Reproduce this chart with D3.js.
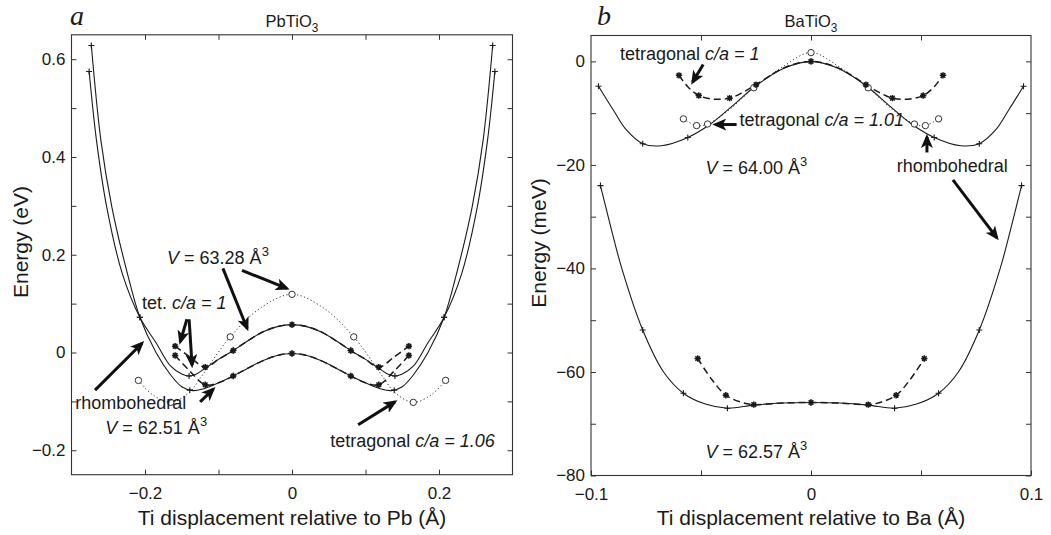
<!DOCTYPE html>
<html><head><meta charset="utf-8">
<script src="https://cdn.jsdelivr.net/npm/d3@7"></script>
<style>
body{margin:0;background:#fff;}
svg text{font-family:"Liberation Sans",Arial,Helvetica,sans-serif;fill:#1a1a1a;}
</style></head><body>
<svg id="chart" width="1051" height="535"></svg>
<script>
// ================= Panel a : PbTiO3 =================
const aXTicks = [-0.2,-0.1,0,0.1,0.2];
const aXLabelVals = [-0.2,0,0.2];
const aXLabelText = ["\u22120.2","0","0.2"];
const aYTicks = [-0.2,-0.1,0,0.1,0.2,0.3,0.4,0.5,0.6];
const aYLabelVals = [-0.2,0,0.2,0.4,0.6];
const aYLabelText = ["\u22120.2","0","0.2","0.4","0.6"];

// rhombohedral, deeper well (solid, +)
const aRhombDeep = [[-0.273,0.628],[-0.260,0.434],[-0.245,0.297],[-0.224,0.162],[-0.207,0.072],[-0.185,0.000],[-0.165,-0.046],[-0.150,-0.070],[-0.135,-0.078],[-0.120,-0.074],[-0.100,-0.062],[-0.080,-0.048],[-0.060,-0.032],[-0.040,-0.017],[-0.020,-0.006],[0,-0.002],[0.020,-0.006],[0.040,-0.017],[0.060,-0.032],[0.080,-0.048],[0.100,-0.062],[0.120,-0.074],[0.135,-0.078],[0.150,-0.070],[0.165,-0.046],[0.185,0.000],[0.207,0.072],[0.224,0.162],[0.245,0.297],[0.260,0.434],[0.273,0.628]];
const aRhombDeepMarks = [[-0.273,0.628],[-0.207,0.072],[-0.139,-0.077],[-0.080,-0.048],[0,-0.002],[0.080,-0.048],[0.139,-0.077],[0.207,0.072],[0.273,0.628]];
// rhombohedral, shallower well (solid, +)
const aRhombShallow = [[-0.276,0.575],[-0.266,0.434],[-0.252,0.297],[-0.231,0.162],[-0.207,0.072],[-0.185,0.020],[-0.165,-0.028],[-0.150,-0.044],[-0.140,-0.048],[-0.130,-0.044],[-0.118,-0.032],[-0.100,-0.014],[-0.080,0.004],[-0.060,0.024],[-0.040,0.042],[-0.020,0.053],[0,0.057],[0.020,0.053],[0.040,0.042],[0.060,0.024],[0.080,0.004],[0.100,-0.014],[0.118,-0.032],[0.130,-0.044],[0.140,-0.048],[0.150,-0.044],[0.165,-0.028],[0.185,0.020],[0.207,0.072],[0.231,0.162],[0.252,0.297],[0.266,0.434],[0.276,0.575]];
const aRhombShallowMarks = [[-0.276,0.575],[-0.207,0.072],[-0.140,-0.048],[-0.080,0.004],[0,0.057],[0.080,0.004],[0.140,-0.048],[0.207,0.072],[0.276,0.575]];
// tetragonal c/a = 1 (dashed, *)
const aTetUpper = [[-0.159,0.013],[-0.139,-0.009],[-0.118,-0.030],[-0.100,-0.014],[-0.080,0.004],[-0.060,0.024],[-0.040,0.042],[-0.020,0.053],[0,0.057],[0.020,0.053],[0.040,0.042],[0.060,0.024],[0.080,0.004],[0.100,-0.014],[0.118,-0.030],[0.139,-0.009],[0.159,0.013]];
const aTetUpperMarks = [[-0.159,0.013],[-0.118,-0.030],[-0.080,0.004],[0,0.057],[0.080,0.004],[0.118,-0.030],[0.159,0.013]];
const aTetLower = [[-0.159,-0.006],[-0.139,-0.038],[-0.118,-0.066],[-0.100,-0.062],[-0.080,-0.048],[-0.060,-0.032],[-0.040,-0.017],[-0.020,-0.006],[0,-0.002],[0.020,-0.006],[0.040,-0.017],[0.060,-0.032],[0.080,-0.048],[0.100,-0.062],[0.118,-0.066],[0.139,-0.038],[0.159,-0.006]];
const aTetLowerMarks = [[-0.159,-0.006],[-0.118,-0.066],[-0.080,-0.048],[0,-0.002],[0.080,-0.048],[0.118,-0.066],[0.159,-0.006]];
// tetragonal c/a = 1.06 (dotted, o)
const aTet106 = [[-0.209,-0.057],[-0.190,-0.086],[-0.165,-0.102],[-0.140,-0.082],[-0.125,-0.053],[-0.108,-0.016],[-0.084,0.032],[-0.042,0.092],[0,0.119],[0.042,0.092],[0.084,0.032],[0.108,-0.016],[0.125,-0.053],[0.140,-0.082],[0.165,-0.102],[0.190,-0.086],[0.209,-0.057]];
const aTet106Marks = [[-0.209,-0.057],[-0.165,-0.102],[-0.084,0.032],[0,0.119],[0.084,0.032],[0.165,-0.102],[0.209,-0.057]];

const aNotes = [
  {x:-0.170,y:0.182,parts:[["V","i"],[" = 63.28 \u00C5",""],["3","sup"]]},
  {x:-0.204,y:0.090,parts:[["tet. ",""],["c/a = 1","i"]]},
  {x:-0.295,y:-0.115,parts:[["rhombohedral",""]]},
  {x:-0.254,y:-0.166,parts:[["V","i"],[" = 62.51 \u00C5",""],["3","sup"]]},
  {x:0.052,y:-0.193,parts:[["tetragonal ",""],["c/a = 1.06","i"]]}
];
const aArrows = [
  [[-0.094,0.172],[-0.061,0.049]],
  [[-0.068,0.168],[-0.007,0.131]],
  [[-0.143,0.068],[-0.152,0.022]],
  [[-0.140,0.068],[-0.136,-0.026]],
  [[-0.268,-0.077],[-0.204,0.019]],
  [[-0.125,-0.101],[-0.107,-0.075]],
  [[0.090,-0.148],[0.140,-0.101]]
];

// ================= Panel b : BaTiO3 =================
const bXTicks = [-0.05,0,0.05];
const bXLabelVals = [-0.1,0,0.1];
const bXLabelText = ["\u22120.1","0","0.1"];
const bYTicks = [-80,-70,-60,-50,-40,-30,-20,-10,0];
const bYLabelVals = [-80,-60,-40,-20,0];
const bYLabelText = ["\u221280","\u221260","\u221240","\u221220","0"];

// V = 64.00, rhombohedral (solid, +)
const bRhomb64 = [[-0.0966,-4.8],[-0.090,-9.3],[-0.084,-13.2],[-0.0765,-15.9],[-0.068,-16.3],[-0.056,-14.7],[-0.046,-12.2],[-0.036,-8.7],[-0.025,-4.7],[-0.012,-1.3],[0,0],[0.012,-1.3],[0.025,-4.7],[0.036,-8.7],[0.046,-12.2],[0.056,-14.7],[0.068,-16.3],[0.0765,-15.9],[0.084,-13.2],[0.090,-9.3],[0.0966,-4.8]];
const bRhomb64Marks = [[-0.0966,-4.8],[-0.0765,-15.9],[-0.056,-14.7],[-0.025,-4.7],[0,0],[0.025,-4.7],[0.056,-14.7],[0.0765,-15.9],[0.0966,-4.8]];
// V = 64.00, tetragonal c/a = 1 (dashed, *)
const bTet64 = [[-0.060,-2.7],[-0.056,-4.9],[-0.051,-6.6],[-0.044,-7.3],[-0.037,-7.1],[-0.031,-6.0],[-0.025,-4.5],[-0.012,-1.2],[0,0],[0.012,-1.2],[0.025,-4.5],[0.031,-6.0],[0.037,-7.1],[0.044,-7.3],[0.051,-6.6],[0.056,-4.9],[0.060,-2.7]];
const bTet64Marks = [[-0.060,-2.7],[-0.051,-6.6],[-0.037,-7.1],[-0.025,-4.5],[0,0],[0.025,-4.5],[0.037,-7.1],[0.051,-6.6],[0.060,-2.7]];
// V = 64.00, tetragonal c/a = 1.01 (dotted, o)
const bTet101 = [[-0.058,-11.1],[-0.052,-12.4],[-0.047,-12.1],[-0.037,-9.3],[-0.026,-5.1],[-0.013,-1.1],[0,1.7],[0.013,-1.1],[0.026,-5.1],[0.037,-9.3],[0.047,-12.1],[0.052,-12.4],[0.058,-11.1]];
const bTet101Marks = [[-0.058,-11.1],[-0.052,-12.4],[-0.047,-12.1],[-0.026,-5.1],[0,1.7],[0.026,-5.1],[0.047,-12.1],[0.052,-12.4],[0.058,-11.1]];
// V = 62.57, rhombohedral (solid, +)
const bRhomb62 = [[-0.0957,-24.0],[-0.091,-32.0],[-0.086,-40.0],[-0.0765,-51.9],[-0.067,-60.0],[-0.058,-64.1],[-0.048,-66.2],[-0.038,-67.0],[-0.026,-66.4],[-0.013,-66.0],[0,-65.9],[0.013,-66.0],[0.026,-66.4],[0.038,-67.0],[0.048,-66.2],[0.058,-64.1],[0.067,-60.0],[0.0765,-51.9],[0.086,-40.0],[0.091,-32.0],[0.0957,-24.0]];
const bRhomb62Marks = [[-0.0957,-24.0],[-0.0765,-51.9],[-0.058,-64.1],[-0.038,-67.0],[0,-65.9],[0.038,-67.0],[0.058,-64.1],[0.0765,-51.9],[0.0957,-24.0]];
// V = 62.57, tetragonal (dashed, *)
const bTet62 = [[-0.0515,-57.4],[-0.045,-61.5],[-0.0387,-64.5],[-0.032,-65.8],[-0.026,-66.3],[-0.013,-66.0],[0,-65.9],[0.013,-66.0],[0.026,-66.3],[0.032,-65.8],[0.0387,-64.5],[0.045,-61.5],[0.0515,-57.4]];
const bTet62Marks = [[-0.0515,-57.4],[-0.0387,-64.5],[-0.026,-66.3],[0,-65.9],[0.026,-66.3],[0.0387,-64.5],[0.0515,-57.4]];

const bNotes = [
  {x:-0.0868,y:0.3,parts:[["tetragonal ",""],["c/a = 1","i"]]},
  {x:-0.0325,y:-12.4,parts:[["tetragonal ",""],["c/a = 1.01","i"]]},
  {x:0.039,y:-21.3,parts:[["rhombohedral",""]]},
  {x:-0.048,y:-21.7,parts:[["V","i"],[" = 64.00 \u00C5",""],["3","sup"]]},
  {x:-0.048,y:-76.6,parts:[["V","i"],[" = 62.57 \u00C5",""],["3","sup"]]}
];
const bArrows = [
  [[-0.049,-0.6],[-0.0538,-4.0]],
  [[-0.0338,-12.2],[-0.0435,-12.2]],
  [[0.0527,-17.6],[0.0527,-14.6]],
  [[0.0645,-22.9],[0.0845,-34.1]]
];

// ================= drawing =================
const svg = d3.select("#chart");
const defs = svg.append("defs");
defs.append("marker").attr("id","ah").attr("viewBox","0 0 14 12")
  .attr("refX",11).attr("refY",6).attr("markerWidth",14).attr("markerHeight",12)
  .attr("markerUnits","userSpaceOnUse").attr("orient","auto")
  .append("path").attr("d","M0,0 L14,6 L0,12 L3.5,6 Z").attr("fill","#111");

const INK = "#1a1a1a";
const PLUS = "M-3,0H3M0,-3V3";
const STAR = "M-3.2,0H3.2M0,-3.2V3.2M-2.3,-2.3L2.3,2.3M-2.3,2.3L2.3,-2.3";

function richText(g, x, y, parts, size, anchor){
  const t = g.append("text").attr("x",x).attr("y",y).attr("font-size",size)
    .attr("text-anchor",anchor||"start");
  parts.forEach(([s,st])=>{
    const ts = t.append("tspan").text(s);
    if(st==="i") ts.attr("font-style","italic");
    if(st==="sup") ts.attr("dy",-size*0.42).attr("font-size",size*0.72);
    if(st==="sub") ts.attr("dy",size*0.3).attr("font-size",size*0.72);
  });
  return t;
}

function drawPanel(o){
  const g = svg.append("g");
  const x = o.x, y = o.y;
  const [x0,x1] = x.range(), [y0,y1] = y.range();
  const fmt = (vals,txt) => v => { const i = vals.findIndex(u=>Math.abs(u-v)<1e-9); return i<0?"":txt[i]; };

  g.append("rect").attr("x",x0).attr("y",y1).attr("width",x1-x0).attr("height",y0-y1)
    .attr("fill","none").attr("stroke","#333").attr("stroke-width",1.1);

  const style = s => { s.select(".domain").remove();
    s.selectAll("line").attr("stroke","#333").attr("stroke-width",1);
    s.selectAll("text").attr("font-size",17).attr("fill",INK)
      .style("font-family",'"Liberation Sans",Arial,sans-serif'); };
  const allX = Array.from(new Set(o.xTicks.concat(o.xLabelVals)));
  const allY = Array.from(new Set(o.yTicks.concat(o.yLabelVals)));
  g.append("g").attr("transform",`translate(0,${y0})`)
    .call(d3.axisBottom(x).tickValues(allX).tickSize(-5).tickPadding(12).tickFormat(fmt(o.xLabelVals,o.xLabelText))).call(style);
  g.append("g").attr("transform",`translate(0,${y1})`)
    .call(d3.axisTop(x).tickValues(o.xTicks).tickSize(-5).tickFormat("")).call(style);
  g.append("g").attr("transform",`translate(${x0},0)`)
    .call(d3.axisLeft(y).tickValues(allY).tickSize(-5).tickPadding(6).tickFormat(fmt(o.yLabelVals,o.yLabelText))).call(style);
  g.append("g").attr("transform",`translate(${x1},0)`)
    .call(d3.axisRight(y).tickValues(o.yTicks).tickSize(-5).tickFormat("")).call(style);

  const line = d3.line().x(d=>x(d[0])).y(d=>y(d[1])).curve(d3.curveCatmullRom.alpha(0.5));
  const plot = g.append("g");
  o.series.forEach(s=>{
    const p = plot.append("path").attr("d",line(s.pts)).attr("fill","none").attr("stroke",INK);
    if(s.kind==="solid") p.attr("stroke-width",1.1);
    if(s.kind==="dashed") p.attr("stroke-width",1.5).attr("stroke-dasharray","7,4");
    if(s.kind==="dotted") p.attr("stroke-width",1).attr("stroke-dasharray","1.2,2.4").attr("stroke","#333");
  });
  o.series.forEach(s=>{
    const m = plot.append("g");
    s.marks.forEach(d=>{
      const cx = x(d[0]), cy = y(d[1]);
      if(s.kind==="dotted"){
        m.append("circle").attr("cx",cx).attr("cy",cy).attr("r",3.2)
          .attr("fill","#fff").attr("stroke","#333").attr("stroke-width",1);
      } else {
        m.append("path").attr("transform",`translate(${cx},${cy})`)
          .attr("d", s.kind==="dashed"?STAR:PLUS).attr("stroke",INK)
          .attr("stroke-width", s.kind==="dashed"?1.5:1.1).attr("fill","none");
      }
    });
  });

  o.arrows.forEach(a=>{
    g.append("line").attr("x1",x(a[0][0])).attr("y1",y(a[0][1]))
      .attr("x2",x(a[1][0])).attr("y2",y(a[1][1]))
      .attr("stroke","#111").attr("stroke-width",3).attr("marker-end","url(#ah)");
  });
  o.notes.forEach(n=> richText(g, x(n.x), y(n.y), n.parts, 18));

  g.append("text").attr("x",o.letterX).attr("y",25).attr("font-size",28)
    .style("font-family",'"Liberation Serif","Times New Roman",serif').attr("font-style","italic").text(o.letter);
  richText(g, (x0+x1)/2, 27, o.title, 16.5, "middle");
  g.append("text").attr("x",(x0+x1)/2).attr("y",525).attr("text-anchor","middle")
    .attr("font-size",21).text(o.xTitle);
  g.append("text").attr("transform",`translate(${o.yTitleX},${o.yTitleY}) rotate(-90)`)
    .attr("text-anchor","middle").attr("font-size",21).text(o.yTitle);
}

drawPanel({
  x: d3.scaleLinear().domain([-0.3,0.3]).range([71.5,512.5]),
  y: d3.scaleLinear().domain([-0.25,0.65]).range([474.7,34.8]),
  xTicks:aXTicks, xLabelVals:aXLabelVals, xLabelText:aXLabelText,
  yTicks:aYTicks, yLabelVals:aYLabelVals, yLabelText:aYLabelText,
  series:[
    {pts:aRhombDeep, marks:aRhombDeepMarks, kind:"solid"},
    {pts:aRhombShallow, marks:aRhombShallowMarks, kind:"solid"},
    {pts:aTet106, marks:aTet106Marks, kind:"dotted"},
    {pts:aTetUpper, marks:aTetUpperMarks, kind:"dashed"},
    {pts:aTetLower, marks:aTetLowerMarks, kind:"dashed"}
  ],
  arrows:aArrows, notes:aNotes,
  letter:"a", letterX:70,
  title:[["PbTiO",""],["3","sub"]],
  xTitle:"Ti displacement relative to Pb (\u00C5)",
  yTitle:"Energy (eV)", yTitleX:28, yTitleY:242
});

drawPanel({
  x: d3.scaleLinear().domain([-0.1,0.1]).range([591,1031]),
  y: d3.scaleLinear().domain([-80,5]).range([475.5,35.5]),
  xTicks:bXTicks, xLabelVals:bXLabelVals, xLabelText:bXLabelText,
  yTicks:bYTicks, yLabelVals:bYLabelVals, yLabelText:bYLabelText,
  series:[
    {pts:bRhomb64, marks:bRhomb64Marks, kind:"solid"},
    {pts:bRhomb62, marks:bRhomb62Marks, kind:"solid"},
    {pts:bTet101, marks:bTet101Marks, kind:"dotted"},
    {pts:bTet64, marks:bTet64Marks, kind:"dashed"},
    {pts:bTet62, marks:bTet62Marks, kind:"dashed"}
  ],
  arrows:bArrows, notes:bNotes,
  letter:"b", letterX:597,
  title:[["BaTiO",""],["3","sub"]],
  xTitle:"Ti displacement relative to Ba (\u00C5)",
  yTitle:"Energy (meV)", yTitleX:546, yTitleY:243
});
</script>
</body></html>
